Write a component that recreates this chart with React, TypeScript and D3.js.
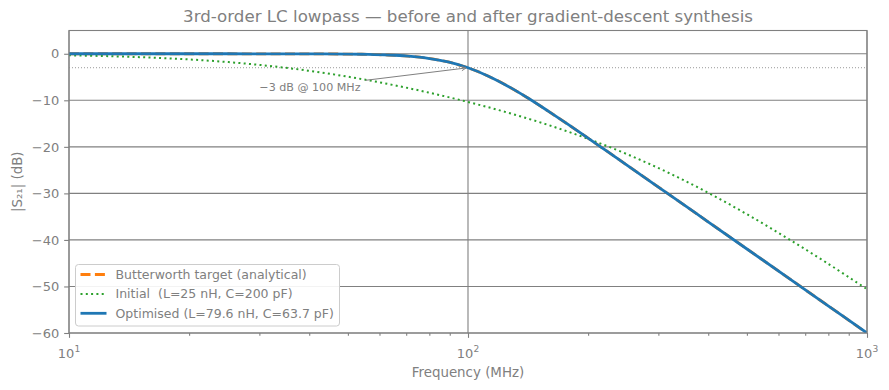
import React from 'react';
import * as d3 from 'd3';

const WIDTH = 889;
const HEIGHT = 390;
const MARGIN = { top: 30.5, right: 22, bottom: 57, left: 69 };
const FONT = '"DejaVu Sans", sans-serif';
const INK = '#808080';

// frequency points for the initial network, 10 per decade (MHz)
const FREQ_MHZ = [10, 12.59, 15.85, 19.95, 25.12, 31.62, 39.81, 50.12, 63.1, 79.43, 100,
  125.9, 158.5, 199.5, 251.2, 316.2, 398.1, 501.2, 631.0, 794.3, 1000];
const INITIAL_DB = [-0.335, -0.52, -0.799, -1.209, -1.794, -2.594, -3.639, -4.942, -6.5, -8.304, -10.352,
  -12.662, -15.272, -18.24, -21.625, -25.471, -29.781, -34.521, -39.621, -44.968, -50.587];

// denser points around the knee for the Butterworth / optimised responses (MHz)
const FILTER_FREQ_MHZ = [10, 12.59, 15.85, 19.95, 25.12, 31.62, 39.81, 50.12, 56.23, 63.1, 70.79, 79.43, 89.13, 100,
  112.2, 125.9, 141.3, 158.5, 177.8, 199.5, 223.9, 251.2, 316.2, 398.1, 501.2, 631.0, 794.3, 1000];
const BUTTERWORTH_DB = [0, 0, 0, -0.0003, -0.0011, -0.0043, -0.017, -0.068, -0.135, -0.266, -0.515, -0.973, -1.764, -3.01,
  -4.764, -6.97, -9.515, -12.27, -15.135, -18.07, -21.034, -24.02, -30.0, -36.0, -42.0, -48.0, -54.0, -60.0];
const OPTIMISED_DB = [0, 0, 0, -0.0003, -0.0011, -0.0043, -0.017, -0.068, -0.135, -0.266, -0.515, -0.973, -1.764, -3.01,
  -4.764, -6.97, -9.515, -12.27, -15.135, -18.07, -21.034, -24.02, -30.0, -36.0, -42.0, -48.0, -54.0, -60.0];

const Y_TICKS = [0, -10, -20, -30, -40, -50, -60];
const X_TICKS = [10, 100, 1000];
const X_EXPONENTS = ['1', '2', '3'];
const X_MINOR = [20, 30, 40, 50, 60, 70, 80, 90, 200, 300, 400, 500, 600, 700, 800, 900];

const SERIES = [
  { label: 'Butterworth target (analytical)', freqs: FILTER_FREQ_MHZ, values: BUTTERWORTH_DB, color: '#ff7f0e', dash: '10,4.4', width: 2.8 },
  { label: 'Initial  (L=25 nH, C=200 pF)', freqs: FREQ_MHZ, values: INITIAL_DB, color: '#2ca02c', dash: '2,3.3', width: 2 },
  { label: 'Optimised (L=79.6 nH, C=63.7 pF)', freqs: FILTER_FREQ_MHZ, values: OPTIMISED_DB, color: '#1f77b4', dash: null, width: 2.8 }
];

const ANNOT = { text: '\u22123 dB @ 100 MHz', f: 30, db: -8, targetF: 100, targetDb: -3, size: 11.1 };

const MAJOR_TICK = 4.86;
const MINOR_TICK = 2.78;

/**
 * Strip the axis domain path and restyle ticks
 * @param  {Object} g d3 selection of the axis group
 */
function styleAxis(g) {
  g.select('.domain').remove();
  g.attr('font-family', FONT).attr('font-size', 13);
  g.selectAll('line').attr('stroke', INK).attr('stroke-width', 1.1);
  g.selectAll('text').attr('fill', INK);
}

export default function App() {
  const innerW = WIDTH - MARGIN.left - MARGIN.right;
  const innerH = HEIGHT - MARGIN.top - MARGIN.bottom;

  const x = d3.scaleLog().domain([10, 1000]).range([0, innerW]);
  const y = d3.scaleLinear().domain([-60, 5]).range([innerH, 0]);

  const yAxis = d3.axisLeft(y).tickValues(Y_TICKS).tickSize(MAJOR_TICK).tickPadding(4.86)
    .tickFormat((d) => (d < 0 ? '\u2212' + Math.abs(d) : String(d)));
  const xAxis = d3.axisBottom(x).tickValues(X_TICKS).tickSize(MAJOR_TICK).tickFormat(() => '');
  const xMinor = d3.axisBottom(x).tickValues(X_MINOR).tickSize(MINOR_TICK).tickFormat(() => '');

  const line = (s) => d3.line()
    .x((_, i) => x(s.freqs[i]))
    .y((d) => y(d))
    .curve(d3.curveCatmullRom.alpha(0.5))(s.values);

  // annotation geometry
  const tx = x(ANNOT.f);
  const ty = y(ANNOT.db);
  const tw = 9.115 * ANNOT.size;
  const cx = tx + tw / 2;
  const cy = ty - 0.35 * ANNOT.size;
  const ex = x(ANNOT.targetF);
  const ey = y(ANNOT.targetDb);
  const len = Math.hypot(ex - cx, ey - cy);
  const ux = (ex - cx) / len;
  const uy = (ey - cy) / len;
  const sx = tx + tw + 5;
  const sy = cy + uy * ((sx - cx) / ux);
  const hx = ex - ux * 2;
  const hy = ey - uy * 2;
  const hl = 4.4;
  const hw = 2.2;
  const head = `M${hx - ux * hl - uy * hw},${hy - uy * hl + ux * hw}L${hx},${hy}L${hx - ux * hl + uy * hw},${hy - uy * hl - ux * hw}`;

  const legend = { x: 6.5, y: innerH - 68.5, w: 264, h: 61.5 };

  return <svg width={WIDTH} height={HEIGHT} style={{ position: 'absolute', left: 0, top: 0, display: 'block', background: '#fff' }}
    fontFamily={FONT}>
    <text x={MARGIN.left + innerW / 2} y={22} textAnchor='middle' fontSize={16.67} fill={INK}>
      3rd-order LC lowpass — before and after gradient-descent synthesis
    </text>
    <g transform={`translate(${MARGIN.left},${MARGIN.top})`}>
      <defs>
        <clipPath id='plot'><rect width={innerW} height={innerH} /></clipPath>
      </defs>
      {/* grid */}
      { Y_TICKS.map((t) => <line key={t} x1={0} x2={innerW} y1={y(t)} y2={y(t)} stroke={INK} strokeWidth={1.1} />) }
      { X_TICKS.map((t) => <line key={t} x1={x(t)} x2={x(t)} y1={0} y2={innerH} stroke={INK} strokeWidth={1.1} />) }
      <line x1={0} x2={innerW} y1={y(-3)} y2={y(-3)} stroke='#999' strokeWidth={1} strokeDasharray='1,2' />

      <g clipPath='url(#plot)'>
        { SERIES.map((s) =>
          <path key={s.label} d={line(s)} fill='none' stroke={s.color} strokeWidth={s.width}
            strokeDasharray={s.dash || undefined} />
        )}
      </g>

      <text x={tx} y={ty} fontSize={ANNOT.size} fill={INK}>{ANNOT.text}</text>
      <line x1={sx} y1={sy} x2={hx} y2={hy} stroke={INK} strokeWidth={1} />
      <path d={head} fill='none' stroke={INK} strokeWidth={1} />

      <g transform={`translate(${legend.x},${legend.y})`}>
        <rect width={legend.w} height={legend.h} rx={3} fill='#fff' fillOpacity={0.9} stroke='#cccccc' strokeWidth={1} />
        { SERIES.map((s, i) =>
          <g key={s.label} transform={`translate(0,${10 + i * 19.4})`}>
            <line x1={5} x2={31} y1={0} y2={0} stroke={s.color} strokeWidth={s.width} strokeDasharray={s.dash || undefined} />
            <text x={40} y={0} dy='0.35em' fontSize={12.5} fill={INK} style={{ whiteSpace: 'pre' }}>{s.label}</text>
          </g>
        )}
      </g>

      <rect width={innerW} height={innerH} fill='none' stroke={INK} strokeWidth={1.1} />

      <g ref={(el) => { if (el) styleAxis(d3.select(el).call(yAxis)); }} />
      <g transform={`translate(0,${innerH})`} ref={(el) => { if (el) styleAxis(d3.select(el).call(xAxis)); }} />
      <g transform={`translate(0,${innerH})`} ref={(el) => { if (el) styleAxis(d3.select(el).call(xMinor)); }} />

      { X_TICKS.map((t, i) =>
        <text key={t} x={x(t)} y={innerH + 25} textAnchor='middle' fontSize={13} fill={INK}>
          10<tspan dy={-6} fontSize={9.1}>{X_EXPONENTS[i]}</tspan>
        </text>
      )}
      <text x={innerW / 2} y={innerH + 44} textAnchor='middle' fontSize={13.4} fill={INK}>Frequency (MHz)</text>
      <text transform={`translate(${17 - MARGIN.left},${innerH / 2}) rotate(-90)`} textAnchor='middle'
        dominantBaseline='central' fontSize={13.4} fill={INK}>|S₂₁| (dB)</text>
    </g>
  </svg>;
}
